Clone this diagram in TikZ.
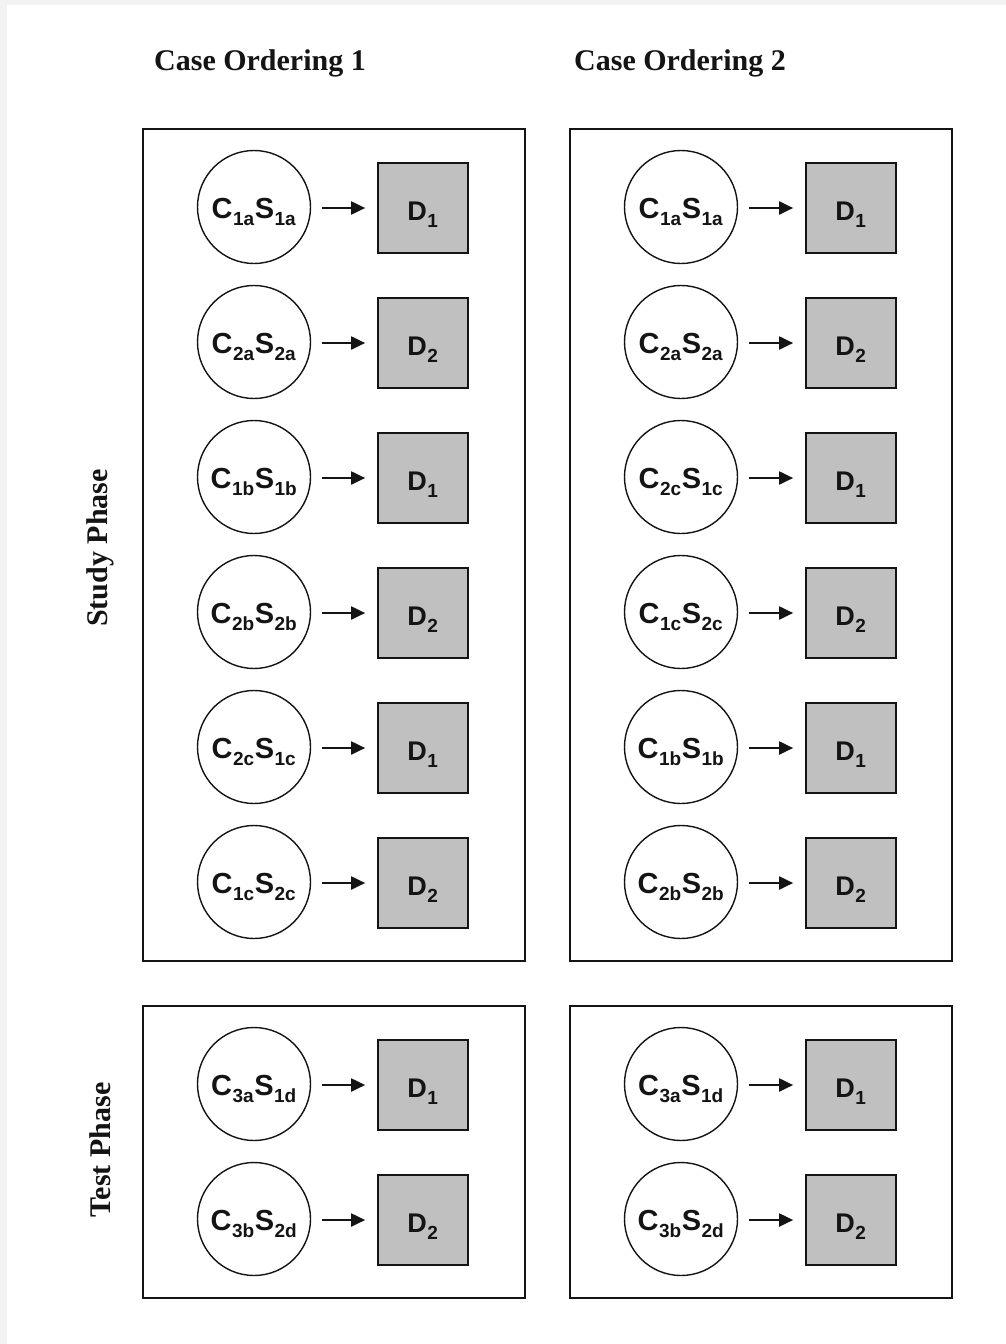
\documentclass[tikz,border=0pt]{standalone}
\usepackage{fontspec}
\setmainfont{Liberation Serif}
\newfontfamily\labelfont{Liberation Sans}
\usetikzlibrary{arrows.meta}
\definecolor{pagegray}{RGB}{242,242,242}
\definecolor{dfill}{RGB}{192,192,192}
\definecolor{ink}{RGB}{20,20,20}
% subscript: smaller, dropped well below the baseline
\newcommand\subtxt[1]{\kern0.5pt\raisebox{-7pt}{\fontsize{19}{19}\selectfont #1\kern0.5pt}}
% label of a case node, with its baseline set below the node centre
\newcommand\casepair[2]{\raisebox{-11pt}[0pt][0pt]{C\subtxt{#1}S\subtxt{#2}}}
\newcommand\dlabel[1]{\raisebox{-12pt}[0pt][0pt]{D\subtxt{#1}}}
\tikzset{
  frame/.style={draw=ink, line width=1.7pt},
  casenode/.style={circle, draw=ink, line width=1.4pt, minimum size=113pt, inner sep=0pt,
    font=\labelfont\bfseries\fontsize{29}{29}\selectfont, text=ink},
  decnode/.style={rectangle, draw=ink, fill=dfill, line width=1.7pt, minimum size=90pt, inner sep=0pt,
    font=\labelfont\bfseries\fontsize{27}{27}\selectfont, text=ink},
  flow/.style={draw=ink, line width=2pt, -{Triangle[length=14pt,width=13pt]},
    shorten <=11pt, shorten >=12pt},
  heading/.style={font=\bfseries\fontsize{30}{30}\selectfont, text=ink},
}
\begin{document}
\begin{tikzpicture}[x=1pt,y=-1pt]
  % page background
  \fill[pagegray] (0,0) rectangle (1006,1344);
  \fill[white] (7,5) rectangle (1006,1344);
  \useasboundingbox (0,0) rectangle (1006,1344);

  % headings
  \node[heading] (h1) at (260,63) {Case Ordering 1};
  \node[heading] (h2) at (680,63) {Case Ordering 2};
  \node[heading, rotate=90] (study) at (100,548) {Study Phase};
  \node[heading, rotate=90] (test) at (100,1150) {Test Phase};

  % frames
  \draw[frame] (143,129) rectangle (525,961);
  \draw[frame] (570,129) rectangle (952,961);
  \draw[frame] (143,1006) rectangle (525,1298);
  \draw[frame] (570,1006) rectangle (952,1298);

  % case ordering 1
  \foreach \n/\y/\a/\b/\d in {1/207/1a/1a/1, 2/342/2a/2a/2, 3/477/1b/1b/1,
      4/612/2b/2b/2, 5/747/2c/1c/1, 6/882/1c/2c/2, 7/1084/3a/1d/1, 8/1219/3b/2d/2}{
    \node[casenode] (La\n) at (254,\y) {\casepair{\a}{\b}};
    \node[decnode] (Ld\n) at (423,\y+1) {\dlabel{\d}};
    \draw[flow] (La\n.east |- Ld\n) -- (Ld\n.west);
  }

  % case ordering 2
  \foreach \n/\y/\a/\b/\d in {1/207/1a/1a/1, 2/342/2a/2a/2, 3/477/2c/1c/1,
      4/612/1c/2c/2, 5/747/1b/1b/1, 6/882/2b/2b/2, 7/1084/3a/1d/1, 8/1219/3b/2d/2}{
    \node[casenode] (Ra\n) at (681,\y) {\casepair{\a}{\b}};
    \node[decnode] (Rd\n) at (851,\y+1) {\dlabel{\d}};
    \draw[flow] (Ra\n.east |- Rd\n) -- (Rd\n.west);
  }
\end{tikzpicture}
\end{document}
